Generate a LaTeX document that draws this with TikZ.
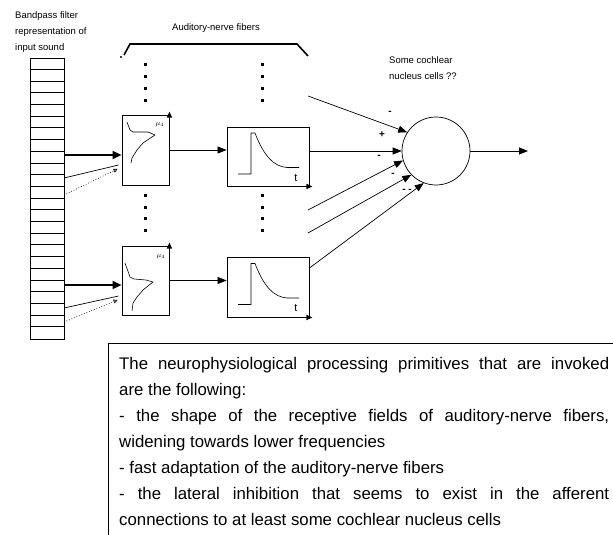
\documentclass[tikz,border=0pt]{standalone}
\usepackage{fontspec}
\setmainfont{Liberation Sans}
\usetikzlibrary{arrows.meta,positioning,calc}

\begin{document}
\begin{tikzpicture}[x=1pt,y=-1pt,
    box/.style={draw,line width=0.9pt,inner sep=0pt},
    feed/.style={-{Triangle[length=9pt,width=7pt]},line width=0.7pt},
    main/.style={-{Triangle[length=9pt,width=8pt]},line width=1.8pt},
    side/.style={line width=0.7pt},
    spread/.style={dotted,line width=0.7pt,-{Triangle[open,length=4pt,width=4pt]}},
    axis/.style={-{Triangle[length=6pt,width=5pt]},line width=1.3pt},
    small/.style={font=\fontsize{9.5}{16}\selectfont},
    sign/.style={font=\fontsize{10}{10}\selectfont\bfseries,inner sep=0pt}]
  \useasboundingbox (0,0) rectangle (613,535);

  % filter bank
  \node[small,anchor=north west,align=left,inner sep=0pt] (title) at (15,11) {Bandpass filter\\representation of\\input sound};
  \node[box,minimum width=34pt,minimum height=281pt] (bank) at (47,198.5) {};
  \foreach \i in {1,...,23}
    \draw[line width=0.6pt] ([yshift=-\i*11.7pt]bank.north west) -- ([yshift=-\i*11.7pt]bank.north east);

  % receptive fields and adaptation
  \node[box,minimum width=47pt,minimum height=70pt] (rf1) at (145.5,150) {};
  \node[box,minimum width=47pt,minimum height=69pt] (rf2) at (145.5,280.5) {};
  \node[box,minimum width=82pt,minimum height=59pt] (ad1) at (268,156.5) {};
  \node[box,minimum width=82pt,minimum height=60pt] (ad2) at (268,287) {};
  \node[draw,circle,line width=0.7pt,minimum size=68pt,inner sep=0pt] (cell) at (436,151) {};

  \draw[axis] (rf1.south east) -- ([yshift=3pt]rf1.north east);
  \draw[axis] (rf2.south east) -- ([yshift=3pt]rf2.north east);
  \node[font=\scriptsize] (mu1) at (160,125) {$\mu_4$};
  \node[font=\scriptsize] (mu2) at (161,257) {$\mu_4$};
  \draw[line width=0.6pt] (127,122) -- (130,130) -- (133,132) -- (148,132) -- (155,135) -- (143,143) -- (137,150) -- (132,158) -- (131,163);
  \draw[line width=0.6pt] (125,263) -- (130,277) -- (134,279) -- (146,280) -- (153,282) -- (143,290) -- (137,297) -- (133,303) -- (132,311);

  \foreach \b in {ad1,ad2} {
    \begin{scope}[shift={(\b.center)}]
      \draw[line width=0.6pt] (-30,17.5) -- (-17,17.5) -- (-17,-23.5) -- (-13,-23.5) .. controls (-4,0) and (6,10) .. (19,11) -- (31,11);
      \node[font=\fontsize{11}{11}\selectfont] (t\b) at (28,21) {t};
    \end{scope}
    \draw[axis] (\b.south west) -- ([xshift=3pt]\b.south east);
  }

  % more fibers
  \foreach \x in {145,262}
    \foreach \y in {65,77,88,100,195,207,218,230}
      \fill (\x-1.5,\y-1.5) rectangle ++(3,3);
  \fill (121,57) circle (1.2);
  \draw[line width=1.6pt] (124,55) -- (130,44) -- (297,44) -- (308,56);
  \node[small] (fibres) at (216,28) {Auditory-nerve fibers};

  % inputs from the filter bank
  \coordinate (s1) at (64,155);
  \coordinate (s1b) at (64,178);
  \coordinate (s1c) at (64,195);
  \coordinate (s2) at (64,285);
  \coordinate (s2b) at (64,308);
  \coordinate (s2c) at (64,322);
  \draw[main] (s1) -- ([yshift=-5pt]rf1.west);
  \draw[side] (s1b) -- ([shift={(-3,15)}]rf1.west);
  \draw[spread] (s1c) -- ([shift={(-4,19)}]rf1.west);
  \draw[main] (s2) -- ([yshift=-4.5pt]rf2.west);
  \draw[side] (s2b) -- ([shift={(-3,15.5)}]rf2.west);
  \draw[spread] (s2c) -- ([shift={(-4,19.5)}]rf2.west);

  \draw[feed] (rf1.east) -- (rf1.east -| ad1.west);
  \draw[feed] (rf2.east) -- (rf2.east -| ad2.west);

  % convergence on the cochlear nucleus cell
  \coordinate (f1) at (308,96);
  \coordinate (f3) at (308,210);
  \coordinate (f4) at (308,233);
  \coordinate (out) at (528,151);
  \draw[feed] (f1) -- (cell.147);
  \draw[feed] (ad1.east |- cell.west) -- (cell.west);
  \draw[feed] (f3) -- (cell.196);
  \draw[feed] (f4) -- (cell.224);
  \draw[feed] ([yshift=19pt]ad2.east) -- (cell.249);
  \draw[feed,line width=1pt] (cell.east) -- (out);

  \node[sign] (n1) at (390,113) {-};
  \node[sign] (p1) at (382,135) {+};
  \node[sign] (n2) at (379,157) {-};
  \node[sign] (n3) at (393,175) {-};
  \node[sign] (n4) at (407,191) {- -};
  \node[small,anchor=north west,align=left,inner sep=0pt] (celllabel) at (389,56) {Some cochlear\\nucleus cells ??};

  % notes
  \draw[line width=0.8pt] (108,536) -- (108,343) -- (614,343);
  \node[anchor=north west,inner sep=0pt,text width=490pt,align=justify,font=\fontsize{16.8}{26}\selectfont] (notes) at (119,357)
    {\hyphenpenalty=10000 The neurophysiological processing primitives that are invoked\linebreak
     are the following:\\
     - the shape of the receptive fields of auditory-nerve fibers,\linebreak
     widening towards lower frequencies\\
     - fast adaptation of the auditory-nerve fibers\\
     - the lateral inhibition that seems to exist in the afferent\linebreak
     connections to at least some cochlear nucleus cells};
\end{tikzpicture}
\end{document}
